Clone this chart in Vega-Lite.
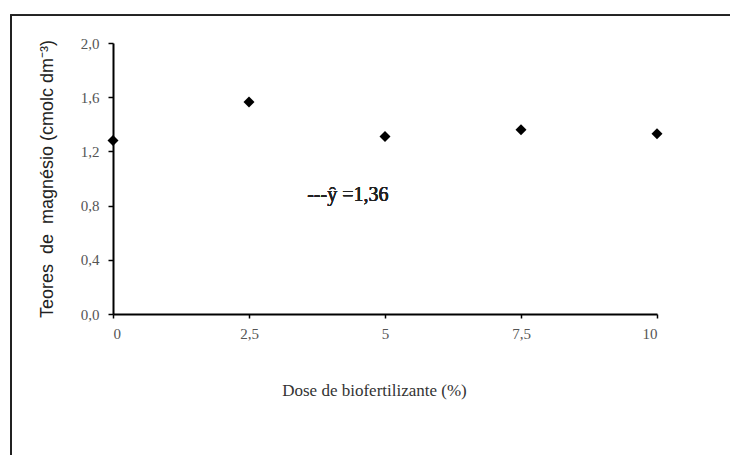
{
  "$schema": "https://vega.github.io/schema/vega-lite/v6.json",
  "autosize": "none",
  "width": 544,
  "height": 271,
  "padding": {"left": 113, "top": 43, "right": 73, "bottom": 141},
  "background": "white",
  "config": {"view": {"stroke": null}},
  "data": {"values": [
    {"dose": 0, "mg": 1.28},
    {"dose": 2.5, "mg": 1.565},
    {"dose": 5, "mg": 1.31},
    {"dose": 7.5, "mg": 1.36},
    {"dose": 10, "mg": 1.33}
  ]},
  "layer": [
    {
      "mark": {"type": "rect", "fill": null, "stroke": "#222", "strokeWidth": 1.6, "clip": false},
      "encoding": {
        "x": {"datum": -1.875, "type": "quantitative"},
        "x2": {"datum": 13},
        "y": {"datum": 2.205, "type": "quantitative"},
        "y2": {"datum": -1.5}
      }
    },
    {
      "mark": {"type": "point", "shape": "diamond", "filled": true, "color": "#000", "size": 120, "opacity": 1},
      "encoding": {
        "x": {
          "field": "dose", "type": "quantitative",
          "scale": {"domain": [0, 10], "nice": false, "zero": false},
          "axis": {
            "values": [0, 2.5, 5, 7.5, 10],
            "labelExpr": "replace(toString(datum.value), '.', ',')",
            "grid": false,
            "domainColor": "#000", "domainWidth": 2,
            "tickColor": "#000", "tickWidth": 1.5, "tickSize": 4,
            "labelFont": "Liberation Serif", "labelFontSize": 15, "labelColor": "#555",
            "labelPadding": 8,
            "title": "Dose de biofertilizante (%)",
            "titleFont": "Liberation Serif", "titleFontSize": 17, "titleFontWeight": "normal", "titleColor": "#333",
            "titleX": 261, "titleY": 76, "titleAlign": "center", "titleBaseline": "middle", "titleAnchor": null
          }
        },
        "y": {
          "field": "mg", "type": "quantitative",
          "scale": {"domain": [0, 2], "nice": false, "zero": false},
          "axis": {
            "values": [0, 0.4, 0.8, 1.2, 1.6, 2.0],
            "labelExpr": "replace(format(datum.value, '.1f'), '.', ',')",
            "grid": false,
            "domainColor": "#000", "domainWidth": 2,
            "tickColor": "#000", "tickWidth": 1.5, "tickSize": 5,
            "labelFont": "Liberation Serif", "labelFontSize": 15, "labelColor": "#555",
            "labelPadding": 9,
            "title": "Teores\u00a0\u00a0de\u00a0\u00a0magnésio (cmolc dm⁻³)",
            "titleFont": "Liberation Sans", "titleFontSize": 18, "titleFontWeight": "normal", "titleColor": "#222",
            "titleX": -66, "titleY": 135.5, "titleAngle": -90, "titleAlign": "center", "titleBaseline": "middle", "titleAnchor": null
          }
        }
      }
    },
    {
      "mark": {"type": "text", "text": "---ŷ =1,36", "align": "left", "baseline": "middle", "font": "Liberation Serif", "fontSize": 20, "fontWeight": "normal", "color": "#222"},
      "encoding": {
        "x": {"datum": 3.57, "type": "quantitative"},
        "y": {"datum": 0.877, "type": "quantitative"}
      }
    }
  ]
}
